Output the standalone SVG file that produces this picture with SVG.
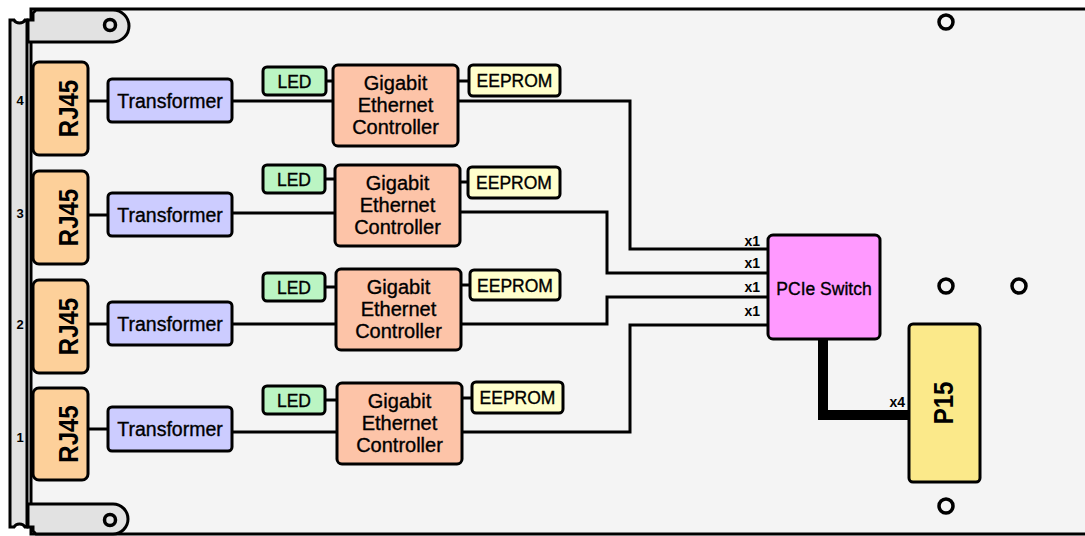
<svg xmlns="http://www.w3.org/2000/svg" width="1085" height="536" viewBox="0 0 1085 536">
<style>
.box{stroke:#000;stroke-width:3}
.rj{fill:#fdd09a}
.tr{fill:#ccccff}
.led{fill:#bbf5c3}
.gec{fill:#fdc4a8}
.ee{fill:#ffffcc}
.pcie{fill:#ff99ff}
.p15{fill:#fbe98a}
.ln{fill:none;stroke:#000;stroke-width:3;stroke-linejoin:miter}
.metal{fill:#e2e2e2;stroke:#000;stroke-width:3}
.hole{fill:none;stroke:#000;stroke-width:3.5}
text{font-family:"Liberation Sans",Arial,sans-serif;fill:#000}
.t{font-size:19.5px;text-anchor:middle;stroke:#000;stroke-width:0.35}
.g{font-size:20px;text-anchor:middle;stroke:#000;stroke-width:0.35}
.s{font-size:17.5px;text-anchor:middle;stroke:#000;stroke-width:0.35}
.big{font-size:24px;font-weight:bold;text-anchor:middle}
.lab{font-size:14px;font-weight:bold;text-anchor:end}
.num{font-size:13px;font-weight:bold;text-anchor:middle}
</style>
<g id="board">
<rect x="31" y="9" width="1070" height="525" fill="#f4f4f4" stroke="#000" stroke-width="3"/>
<path class="metal" d="M10,20 L14,20 A6,5 0 0 0 25,20 L27,20 L27,527 L25,527 A6,5 0 0 0 14,527 L10,527 Z"/>
<path class="metal" d="M28,42 L28,20 L33,20 L33,13 L36,10 L113,10 A16,16 0 0 1 113,42 Z"/>
<circle class="hole" cx="110" cy="25" r="5.5"/>
<path class="metal" d="M28,504 L28,527 L33,527 L33,531 L36,534 L113,534 A15,15 0 0 0 113,504 Z"/>
<circle class="hole" cx="110" cy="520" r="5.5"/>
<circle class="hole" cx="946" cy="22" r="7"/>
<circle class="hole" cx="946" cy="286" r="7"/>
<circle class="hole" cx="1019" cy="286" r="7"/>
<circle class="hole" cx="946" cy="506" r="7"/>
<text class="num" x="20" y="105">4</text>
<text class="num" x="20" y="218">3</text>
<text class="num" x="20" y="329">2</text>
<text class="num" x="20" y="442">1</text>
</g>
<g id="connectors">
<path class="ln" d="M88,101 H108 M232,101 H333 M326,81 H333 M458,81 H469 M458,101 H630 V249 H768"/>
<path class="ln" d="M88,215 H108 M232,213 H335 M325,179 H335 M460,182 H468 M460,212 H607 V273 H768"/>
<path class="ln" d="M88,324 H108 M232,324 H336 M325,287 H336 M461,285 H470 M461,324 H607 V297 H768"/>
<path class="ln" d="M88,429 H108 M232,432 H337 M325,400 H337 M462,398 H472 M462,432 H630 V325 H768"/>
<path fill="none" stroke="#000" stroke-width="10" d="M823,339 V415 H909"/>
<text class="lab" x="760" y="246">x1</text>
<text class="lab" x="760" y="268">x1</text>
<text class="lab" x="760" y="292">x1</text>
<text class="lab" x="760" y="316">x1</text>
<text class="lab" x="905" y="407">x4</text>
</g>
<g id="rj45-4"><rect class="box rj" x="33" y="62" width="55" height="93" rx="6"/><text class="big" transform="translate(78,108.5) rotate(-90) scale(1,1.15)">RJ45</text></g>
<g id="rj45-3"><rect class="box rj" x="33" y="171" width="55" height="93" rx="6"/><text class="big" transform="translate(78,217.5) rotate(-90) scale(1,1.15)">RJ45</text></g>
<g id="rj45-2"><rect class="box rj" x="33" y="280" width="55" height="93" rx="6"/><text class="big" transform="translate(78,326.5) rotate(-90) scale(1,1.15)">RJ45</text></g>
<g id="rj45-1"><rect class="box rj" x="33" y="388" width="55" height="92" rx="6"/><text class="big" transform="translate(78,434) rotate(-90) scale(1,1.15)">RJ45</text></g>
<g id="transformer-4"><rect class="box tr" x="108" y="79" width="124" height="43" rx="4"/><text class="t" x="170" y="108">Transformer</text></g>
<g id="transformer-3"><rect class="box tr" x="108" y="193" width="124" height="43" rx="4"/><text class="t" x="170" y="222">Transformer</text></g>
<g id="transformer-2"><rect class="box tr" x="108" y="302" width="124" height="43" rx="4"/><text class="t" x="170" y="331">Transformer</text></g>
<g id="transformer-1"><rect class="box tr" x="108" y="407" width="124" height="44" rx="4"/><text class="t" x="170" y="436">Transformer</text></g>
<g id="led-4"><rect class="box led" x="263" y="67" width="63" height="28" rx="4"/><text class="s" x="294.5" y="87.5">LED</text></g>
<g id="led-3"><rect class="box led" x="263" y="165" width="62" height="28" rx="4"/><text class="s" x="294" y="185.5">LED</text></g>
<g id="led-2"><rect class="box led" x="263" y="273" width="62" height="28" rx="4"/><text class="s" x="294" y="293.5">LED</text></g>
<g id="led-1"><rect class="box led" x="263" y="386" width="62" height="28" rx="4"/><text class="s" x="294" y="406.5">LED</text></g>
<g id="gec-4"><rect class="box gec" x="333" y="65" width="125" height="81" rx="5"/><text class="g" x="395.5" y="90">Gigabit</text><text class="g" x="395.5" y="112">Ethernet</text><text class="g" x="395.5" y="134">Controller</text></g>
<g id="gec-3"><rect class="box gec" x="335" y="165" width="125" height="81" rx="5"/><text class="g" x="397.5" y="190">Gigabit</text><text class="g" x="397.5" y="212">Ethernet</text><text class="g" x="397.5" y="234">Controller</text></g>
<g id="gec-2"><rect class="box gec" x="336" y="269" width="125" height="81" rx="5"/><text class="g" x="398.5" y="294">Gigabit</text><text class="g" x="398.5" y="316">Ethernet</text><text class="g" x="398.5" y="338">Controller</text></g>
<g id="gec-1"><rect class="box gec" x="337" y="383" width="125" height="81" rx="5"/><text class="g" x="399.5" y="408">Gigabit</text><text class="g" x="399.5" y="430">Ethernet</text><text class="g" x="399.5" y="452">Controller</text></g>
<g id="eeprom-4"><rect class="box ee" x="469" y="65" width="91" height="31" rx="4"/><text class="s" x="514.5" y="87">EEPROM</text></g>
<g id="eeprom-3"><rect class="box ee" x="468" y="167" width="92" height="31" rx="4"/><text class="s" x="514" y="189">EEPROM</text></g>
<g id="eeprom-2"><rect class="box ee" x="470" y="270" width="90" height="30" rx="4"/><text class="s" x="515" y="291.5">EEPROM</text></g>
<g id="eeprom-1"><rect class="box ee" x="472" y="382" width="91" height="31" rx="4"/><text class="s" x="517.5" y="404">EEPROM</text></g>
<g id="pcie-switch"><rect class="box pcie" x="768" y="235" width="112" height="104" rx="5"/><text class="s" x="824" y="295">PCIe Switch</text></g>
<g id="p15"><rect class="box p15" x="909" y="324" width="71" height="158" rx="4"/><text class="big" transform="translate(953,403) rotate(-90) scale(1,1.15)">P15</text></g>
</svg>
